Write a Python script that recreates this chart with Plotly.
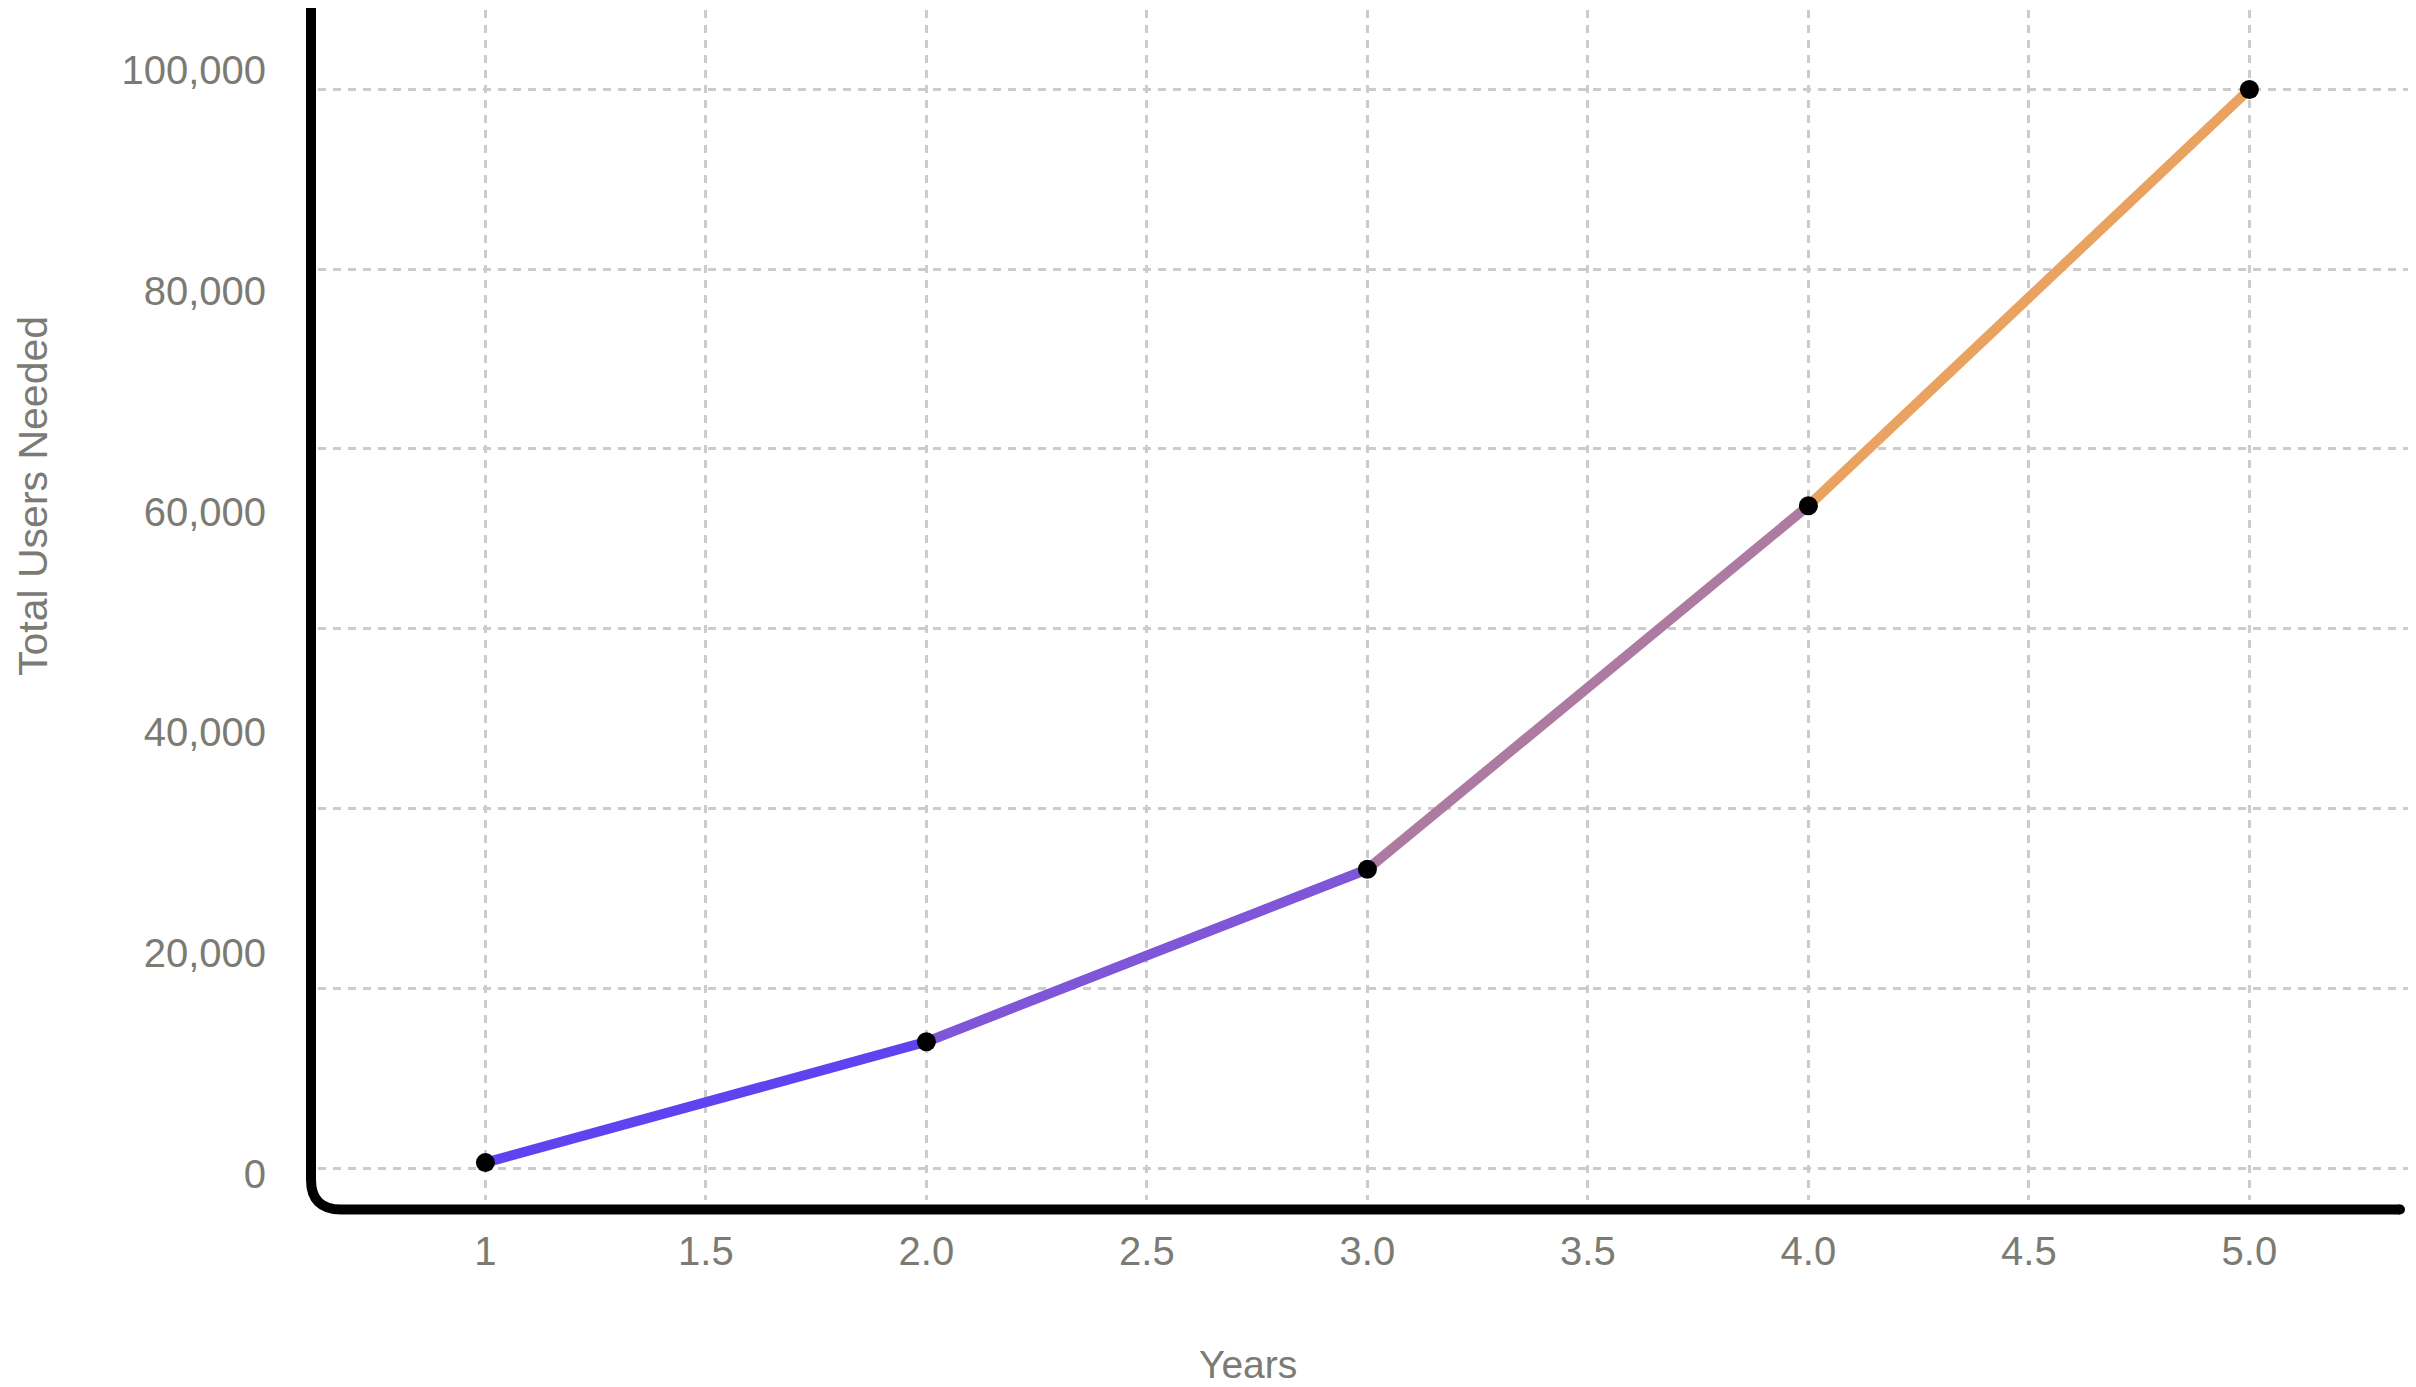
import plotly.graph_objects as go

# ---- data ----
years = [1, 2, 3, 4, 5]
users = [500, 11700, 27700, 61400, 100000]
segment_colors = ["#6142f0", "#7f56d8", "#ad7aa2", "#e9a260"]
x_tickvals = [1, 1.5, 2, 2.5, 3, 3.5, 4, 4.5, 5]
x_ticktext = ["1", "1.5", "2.0", "2.5", "3.0", "3.5", "4.0", "4.5", "5.0"]
y_label_vals = [0, 20000, 40000, 60000, 80000, 100000]
y_label_text = ["0", "20,000", "40,000", "60,000", "80,000", "100,000"]

# ---- layout constants (pixels, in reference-screen coordinates) ----
OFF = 8  # default page body margin
W, H = 2416 - OFF, 1387 - OFF
PLOT_L, PLOT_T, PLOT_R, PLOT_B = 318, 10, 2416, 1200
L, T = PLOT_L - OFF, PLOT_T - OFF
R = 2416 - PLOT_R
B = 1387 - PLOT_B
PW = PLOT_R - PLOT_L
PH = PLOT_B - PLOT_T
GRAY = "#7b7b74"
FONT = "Liberation Sans, Arial, sans-serif"

def px(xp):
    return (xp - PLOT_L) / PW

def py(yp):
    return (PLOT_B - yp) / PH

fig = go.Figure()

for i in range(len(years) - 1):
    fig.add_trace(go.Scatter(
        x=years[i:i + 2], y=users[i:i + 2], mode="lines",
        line=dict(color=segment_colors[i], width=10),
        showlegend=False, hoverinfo="skip"))

fig.add_trace(go.Scatter(
    x=years, y=users, mode="markers",
    marker=dict(color="black", size=19),
    showlegend=False))

# invisible trace for the label axis
fig.add_trace(go.Scatter(x=[None], y=[None], yaxis="y2", showlegend=False, hoverinfo="skip"))

grid = dict(showgrid=True, gridcolor="#cccccc", gridwidth=3, griddash="8px,7px")

fig.update_layout(
    width=W, height=H,
    margin=dict(l=L, r=R, t=T, b=B, pad=0),
    paper_bgcolor="white", plot_bgcolor="white",
    font=dict(family=FONT, color=GRAY, size=40),
    xaxis=dict(range=[0.6204, 5.3778], tickvals=x_tickvals, ticktext=x_ticktext,
               zeroline=False, showline=False, ticks="", ticklabelstandoff=24,
               tickfont=dict(size=40, color=GRAY, family=FONT), **grid),
    yaxis=dict(range=[-2967, 107362], tick0=0, dtick=100000 / 6,
               showticklabels=False, zeroline=False, showline=False, ticks="", **grid),
    yaxis2=dict(range=[-2355, 105435], overlaying="y", side="left",
                tickvals=y_label_vals, ticktext=y_label_text, showgrid=False,
                zeroline=False, showline=False, ticks="", ticklabelstandoff=51,
                tickfont=dict(size=40, color=GRAY, family=FONT)),
)

# axis lines with rounded corner
ax_x, ax_top, ax_y, ax_right, rad = 311, 8, 1209.5, 2400, 30
path = (f"M {px(ax_x)},{py(ax_top)} L {px(ax_x)},{py(ax_y - rad)} "
        f"Q {px(ax_x)},{py(ax_y)} {px(ax_x + rad)},{py(ax_y)} L {px(ax_right)},{py(ax_y)}")
fig.add_shape(type="path", path=path, xref="paper", yref="paper",
              line=dict(color="black", width=10))
for cx, cy in [(ax_x, ax_top), (ax_right, ax_y)]:
    fig.add_shape(type="circle", xref="paper", yref="paper",
                  xsizemode="pixel", ysizemode="pixel",
                  xanchor=px(cx), yanchor=py(cy), x0=-5, x1=5, y0=-5, y1=5,
                  fillcolor="black", line=dict(width=0))

fig.add_annotation(text="Years", x=px(1248), y=py(1364), xref="paper", yref="paper",
                   showarrow=False, font=dict(size=39, color=GRAY, family=FONT),
                   xanchor="center", yanchor="middle")
fig.add_annotation(text="Total Users Needed", x=px(33), y=py(496), xref="paper", yref="paper",
                   showarrow=False, textangle=-90, font=dict(size=41, color=GRAY, family=FONT),
                   xanchor="center", yanchor="middle", borderpad=0)

fig.write_html("out.html")
